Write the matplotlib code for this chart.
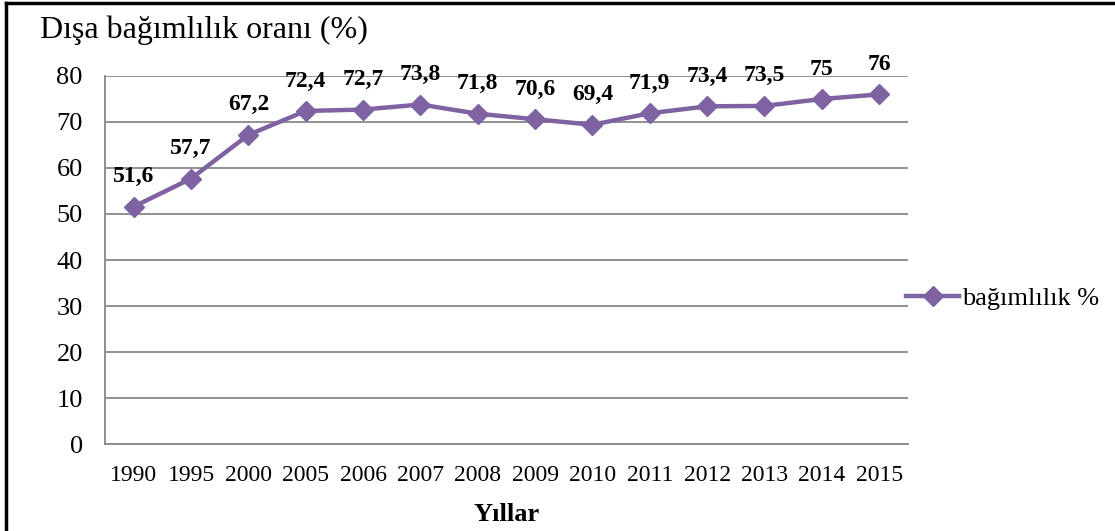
import matplotlib.pyplot as plt
from matplotlib.lines import Line2D

plt.rcParams["font.family"] = ["Liberation Serif", "DejaVu Serif"]

years = ["1990", "1995", "2000", "2005", "2006", "2007", "2008", "2009",
         "2010", "2011", "2012", "2013", "2014", "2015"]
values = [51.6, 57.7, 67.2, 72.4, 72.7, 73.8, 71.8, 70.6, 69.4, 71.9,
          73.4, 73.5, 75, 76]
yticks = [0, 10, 20, 30, 40, 50, 60, 70, 80]

purple = "#7f62a1"
grid_gray = "#888888"

fig = plt.figure(figsize=(11.15, 5.31), dpi=100)
ax = fig.add_axes([0.0942, 0.1638, 0.72, 0.6931])

x = list(range(len(years)))
ax.plot(x, values, color=purple, lw=3.2, marker="D", markersize=10,
        markeredgecolor=purple, markerfacecolor=purple, zorder=3)

for xi, v in zip(x, values):
    txt = f"{v:g}".replace(".", ",")
    ax.annotate(txt, (xi, v), xytext=(0, 14), textcoords="offset points",
                ha="center", va="bottom", fontsize=17, fontweight="bold",
                zorder=4)

ax.set_xlim(-0.5, len(years) - 0.5)
ax.set_ylim(0, 80)
ax.set_yticks(yticks)
ax.set_xticks(x)
ax.set_xticklabels(years)
ax.tick_params(axis="both", length=0)
ax.tick_params(axis="y", pad=16, labelsize=19)
ax.tick_params(axis="x", pad=15, labelsize=17)
ax.grid(axis="y", color=grid_gray, lw=1.3)
ax.set_axisbelow(True)
for side in ["top", "right"]:
    ax.spines[side].set_visible(False)
for side in ["left", "bottom"]:
    ax.spines[side].set_color(grid_gray)
    ax.spines[side].set_linewidth(1.3)

ax.set_xlabel("Yıllar", fontsize=19, fontweight="bold", labelpad=12)

fig.text(40 / 1115, 1 - 30 / 531, "Dışa bağımlılık oranı (%)",
         fontsize=23, ha="left", va="center")

# legend entry at the right
leg_handle = Line2D([], [], color=purple, lw=3.2, marker="D", markersize=10)
fig.legend([leg_handle], ["bağımlılık %"], loc="center left",
           bbox_to_anchor=(893 / 1115, 1 - 298 / 531), frameon=False,
           fontsize=19, handlelength=2.0, handletextpad=0.1, borderpad=0)

# outer frame (top and left edges visible)
fig.add_artist(Line2D([6 / 1115, 1], [1 - 3 / 531, 1 - 3 / 531],
                      transform=fig.transFigure, color="black", lw=2.5))
fig.add_artist(Line2D([6 / 1115, 6 / 1115], [0, 1 - 3 / 531],
                      transform=fig.transFigure, color="black", lw=2.5))

fig.savefig("out.png", dpi=100)
